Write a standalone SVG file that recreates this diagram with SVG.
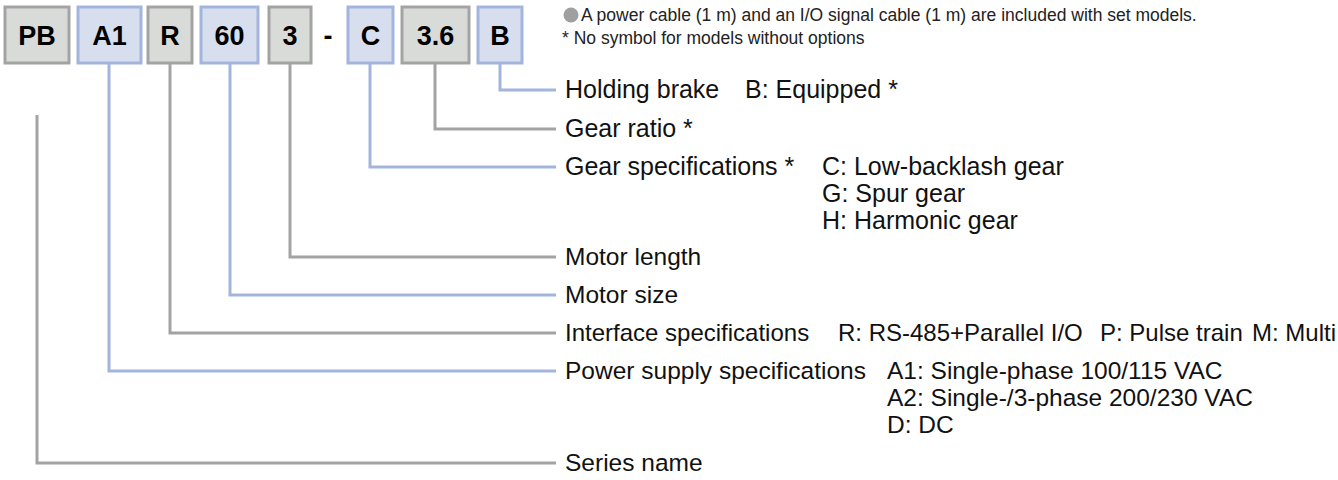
<svg xmlns="http://www.w3.org/2000/svg" width="1338" height="480" viewBox="0 0 1338 480">
<style>
.bg{fill:#d9dbd9;stroke:#a3a3a3;stroke-width:3}
.bb{fill:#d7deee;stroke:#a3b5dc;stroke-width:3}
.code{font-family:"Liberation Sans",Arial,sans-serif;font-weight:bold;font-size:27px;fill:#000;text-anchor:middle}
.lbl{font-family:"Liberation Sans",Arial,sans-serif;font-size:24.5px;fill:#111}
.up{font-size:25px}
.ifc{font-size:24px}
.note{font-family:"Liberation Sans",Arial,sans-serif;font-size:17.5px;fill:#222}
.cg{fill:none;stroke:#a3a3a3;stroke-width:3}
.cb{fill:none;stroke:#a3b5dc;stroke-width:3}
</style>
<rect width="1338" height="480" fill="#fff"/>
<g id="notes">
<circle cx="571" cy="15" r="7.5" fill="#a0a0a0"/>
<text class="note" x="581" y="21">A power cable (1 m) and an I/O signal cable (1 m) are included with set models.</text>
<text class="note" x="562" y="44">* No symbol for models without options</text>
</g>
<g id="connectors">
<polyline class="cb" points="500,63 500,90 556,90"/>
<polyline class="cg" points="435,63 435,129 556,129"/>
<polyline class="cb" points="370,63 370,167 556,167"/>
<polyline class="cg" points="290,63 290,257 556,257"/>
<polyline class="cb" points="230,63 230,295 556,295"/>
<polyline class="cg" points="170,63 170,333 556,333"/>
<polyline class="cb" points="109,63 109,371 556,371"/>
<polyline class="cg" points="37,115 37,463 556,463"/>
</g>
<g id="box-PB"><rect class="bg" x="5" y="7" width="64" height="56"/><text class="code" x="37" y="45">PB</text></g>
<g id="box-A1"><rect class="bb" x="78" y="7" width="63" height="56"/><text class="code" x="109.5" y="45">A1</text></g>
<g id="box-R"><rect class="bg" x="148" y="7" width="44" height="56"/><text class="code" x="170" y="45">R</text></g>
<g id="box-60"><rect class="bb" x="201" y="7" width="57" height="56"/><text class="code" x="229.5" y="45">60</text></g>
<g id="box-3"><rect class="bg" x="269" y="7" width="42" height="56"/><text class="code" x="290" y="45">3</text></g>
<g id="dash"><text class="code" x="328" y="45">-</text></g>
<g id="box-C"><rect class="bb" x="348" y="7" width="45" height="56"/><text class="code" x="370.5" y="45">C</text></g>
<g id="box-36"><rect class="bg" x="402" y="7" width="67" height="56"/><text class="code" x="435.5" y="45">3.6</text></g>
<g id="box-B"><rect class="bb" x="478" y="7" width="44" height="56"/><text class="code" x="500" y="45">B</text></g>
<g id="labels">
<text class="lbl up" x="565" y="98">Holding brake<tspan x="745">B: Equipped *</tspan></text>
<text class="lbl up" x="565" y="137">Gear ratio *</text>
<text class="lbl up" x="565" y="175">Gear specifications *<tspan x="822">C: Low-backlash gear</tspan></text>
<text class="lbl up" x="822" y="202">G: Spur gear</text>
<text class="lbl up" x="822" y="229">H: Harmonic gear</text>
<text class="lbl" x="565" y="265">Motor length</text>
<text class="lbl" x="565" y="303">Motor size</text>
<text class="lbl ifc" x="565" y="341">Interface specifications<tspan x="838">R: RS-485+Parallel I/O</tspan><tspan x="1100">P: Pulse train</tspan><tspan x="1252">M: Multi</tspan></text>
<text class="lbl" x="565" y="379">Power supply specifications<tspan x="887">A1: Single-phase 100/115 VAC</tspan></text>
<text class="lbl" x="887" y="406">A2: Single-/3-phase 200/230 VAC</text>
<text class="lbl" x="887" y="433">D: DC</text>
<text class="lbl" x="565" y="471">Series name</text>
</g>
</svg>
